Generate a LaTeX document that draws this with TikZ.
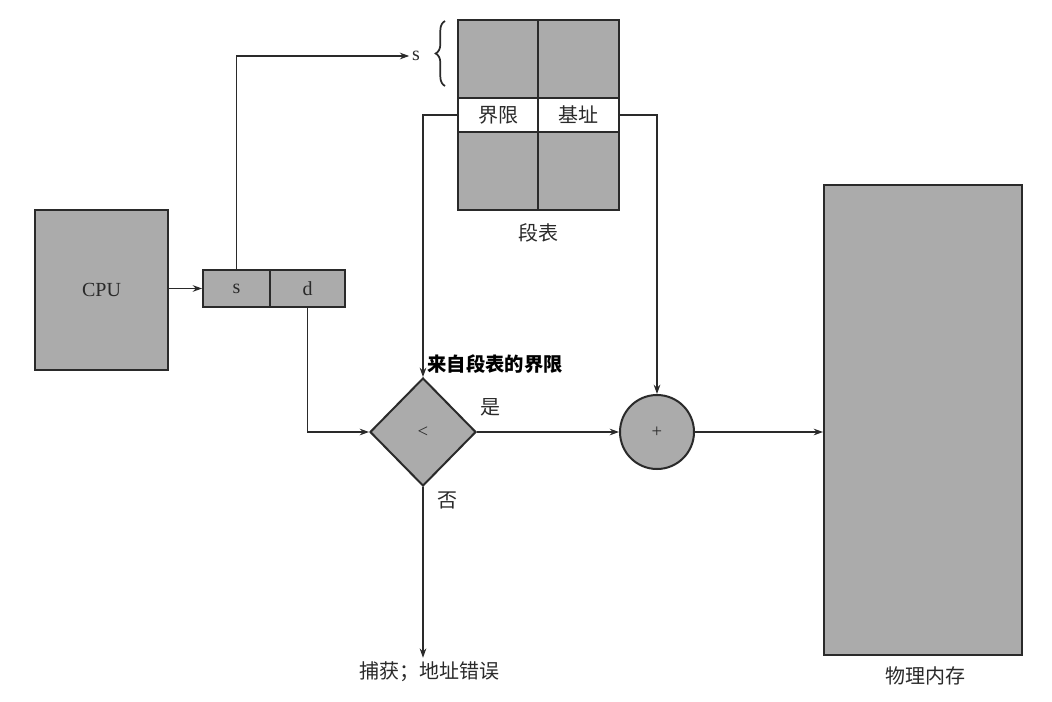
\documentclass[tikz,border=0pt]{standalone}
\usepackage{fontspec}
\setmainfont{Liberation Serif}
\newfontfamily\cjk{Noto Sans CJK SC}
\usetikzlibrary{shapes.geometric,arrows.meta,decorations.pathreplacing}
\definecolor{boxgray}{HTML}{ABABAB}
\definecolor{ink}{HTML}{2A2A2A}
\tikzset{
  box/.style={draw=ink, line width=1.5pt, fill=boxgray, inner sep=0pt, text=ink, font=\fontsize{15}{18}\selectfont},
  wbox/.style={box, fill=white, font=\cjk\fontsize{15}{17}\selectfont},
  conn/.style={draw=ink, line width=0.9pt},
  arr/.style={conn, -{Stealth[length=7pt,width=5pt]}},
  lab/.style={text=ink, inner sep=1pt, font=\cjk\fontsize{15}{17}\selectfont},
}
\begin{document}
\begin{tikzpicture}[x=0.75pt,y=-0.75pt]
\useasboundingbox[fill=white] (0,0) rectangle (1052,702);
% CPU
\node[box, minimum width=99.75pt, minimum height=120pt] (cpu) at (101.5,290) {CPU};
% address register
\node[box, minimum width=50.25pt, minimum height=27.75pt] (s) at (236.5,288.5) {s};
\node[box, minimum width=56.25pt, minimum height=27.75pt] (d) at (307.5,288.5) {d};
% segment table
\node[box, minimum width=60pt, minimum height=58.5pt] (t1) at (498,59) {};
\node[box, minimum width=60.75pt, minimum height=58.5pt] (t2) at (578.5,59) {};
\node[wbox, minimum width=60pt, minimum height=25.5pt] (lim) at (498,115) {界限};
\node[wbox, minimum width=60.75pt, minimum height=25.5pt] (base) at (578.5,115) {基址};
\node[box, minimum width=60pt, minimum height=58.5pt] (t3) at (498,171) {};
\node[box, minimum width=60.75pt, minimum height=58.5pt] (t4) at (578.5,171) {};
\node[lab] (tbl) at (538,233) {段表};
% s label and brace
\node[text=ink, inner sep=2pt, font=\fontsize{15}{17}\selectfont] (slab) at (416,56) {s};
\draw[ink, line width=1.3pt, decorate, decoration={brace, amplitude=7pt}] (445,86) -- (445,21);
% comparator
\node[box, diamond, minimum width=79.5pt, minimum height=81pt, aspect=1] (dia) at (423,432) {\fontsize{14}{15}\selectfont <};
\node[box, circle, minimum size=55.5pt] (plus) at (657,432) {\fontsize{14}{15}\selectfont +};
% memory
\node[box, minimum width=148.5pt, minimum height=352.5pt] (mem) at (923,420) {};
\node[lab] (memlab) at (925,676) {物理内存};
% labels
\node[inner sep=0pt, text=black, font=\cjk\bfseries\fontsize{14.5}{16}\selectfont] (fromlim) at (495,364) {来自段表的界限};
\node[lab] (yes) at (490,407) {是};
\node[lab] (no) at (447,500) {否};
\node[lab, inner sep=3pt] (trap) at (429,672) {捕获；地址错误};
% connectors
\draw[arr] (cpu.east |- s.west) -- (s.west);
\draw[arr] (s.north) |- (slab.west);
\draw[arr] (lim.west) -| (dia.north);
\draw[arr] (base.east) -| (plus.north);
\draw[arr] (d.south) |- (dia.west);
\draw[arr] (dia.east) -- (plus.west);
\draw[arr] (plus.east) -- (plus.east -| mem.west);
\draw[arr] (dia.south) -- (dia.south |- trap.north);
\end{tikzpicture}
\end{document}
